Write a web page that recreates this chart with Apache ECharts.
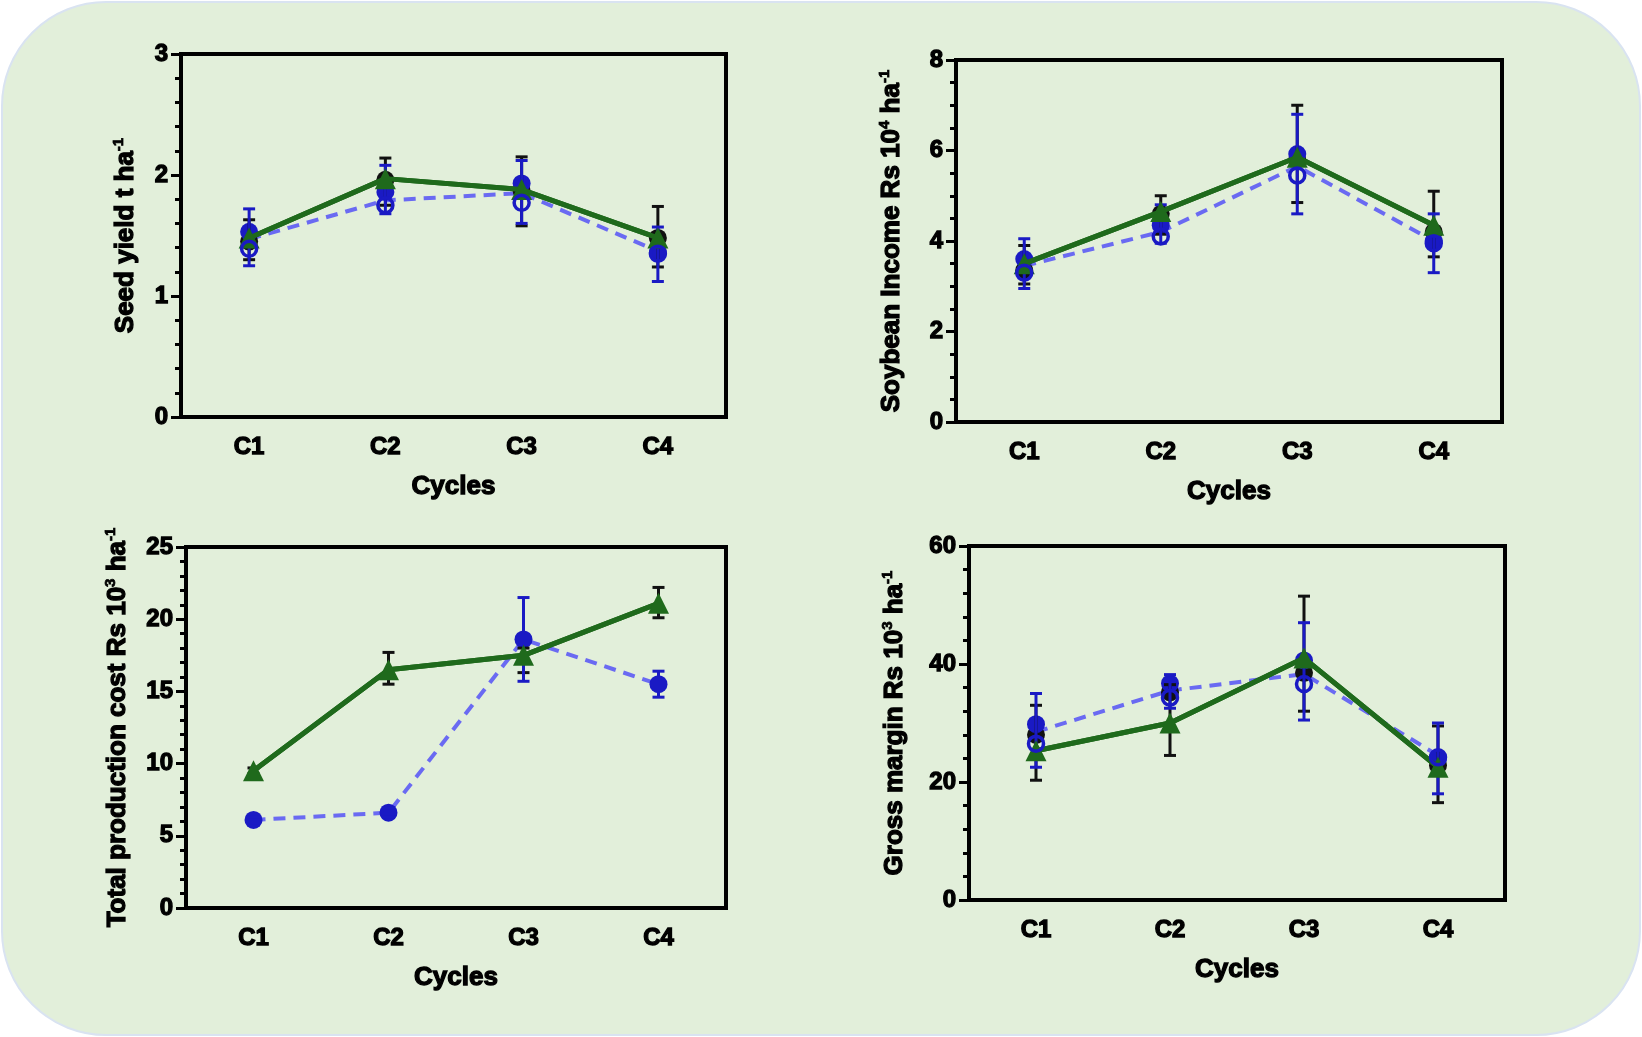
<!DOCTYPE html>
<html>
<head>
<meta charset="utf-8">
<script src="https://cdn.jsdelivr.net/npm/echarts@6/dist/echarts.min.js"></script>
<style>
  html, body { margin: 0; padding: 0; background: #ffffff; }
  #bg {
    position: absolute; left: 1px; top: 1px; width: 1636px; height: 1031px;
    background: #e2efda; border: 2px solid #d9e3f1; border-radius: 105px;
  }
  #main { position: absolute; left: 0; top: 0; width: 1642px; height: 1037px; }
</style>
</head>
<body>
<div id="bg"></div>
<div id="main"></div>
<script>
// categories
const cycles = ['C1', 'C2', 'C3', 'C4']

// seed yield (t/ha)
const yieldGreen = [1.48, 1.97, 1.88, 1.48]
const yieldDash = [1.47, 1.79, 1.85, 1.37]
const yieldBlack = [1.45, 1.96, 1.87, 1.48]
const yieldBlue = [1.53, 1.86, 1.93, 1.36]
const yieldOpen = [1.39, 1.75, 1.77, 1.35]
const yieldBlackErr = [[1.30, 1.63], [1.75, 2.14], [1.58, 2.15], [1.24, 1.74]]
const yieldBlueErr = [[1.25, 1.72], [1.68, 2.08], [1.60, 2.12], [1.12, 1.57]]

// soybean income (Rs 10^4/ha)
const incomeGreen = [3.5, 4.65, 5.85, 4.35]
const incomeDash = [3.45, 4.2, 5.65, 4.0]
const incomeBlack = [3.35, 4.6, 5.8, 4.2]
const incomeBlue = [3.6, 4.35, 5.92, 4.0]
const incomeOpen = [3.3, 4.1, 5.45, 3.95]
const incomeBlackErr = [[3.05, 3.9], [4.15, 5.0], [4.85, 7.0], [3.65, 5.1]]
const incomeBlueErr = [[2.95, 4.05], [3.95, 4.8], [4.6, 6.8], [3.3, 4.6]]

// total production cost (Rs 10^3/ha)
const costGreen = [9.5, 16.5, 17.5, 21.1]
const costBlue = [6.1, 6.6, 18.6, 15.5]
const costGreenErr = [[9.3, 9.7], [15.5, 17.7], [16.3, 18.0], [20.1, 22.2]]
const costBlueErr = [[5.9, 6.3], [6.3, 6.9], [15.7, 21.5], [14.6, 16.4]]

// gross margin (Rs 10^3/ha)
const marginGreen = [25.3, 30.0, 41.0, 22.5]
const marginDash = [28.5, 35.5, 38.3, 24.5]
const marginBlack = [28.0, 35.2, 38.5, 22.8]
const marginBlue = [29.8, 36.7, 40.6, 24.0]
const marginOpen = [26.5, 34.3, 36.6, 24.2]
const marginBlackErr = [[20.3, 33], [24.5, 36.5], [32, 51.5], [16.5, 29.5]]
const marginBlueErr = [[22.5, 35], [32.5, 38.2], [30.5, 47], [18, 30]]

const FONT = 'Liberation Sans'
const GREEN = '#1f6a1c'
const DASH = '#6a6af2'
const BLUE = '#1a1ac4'
const BLACK = '#111111'

const grids = [
  { left: 181, top: 54, width: 545, height: 363 },
  { left: 956, top: 60, width: 546, height: 362 },
  { left: 186, top: 547, width: 540, height: 361 },
  { left: 969, top: 546, width: 536, height: 354 },
]

// heavy text: bold plus a thin outline of the same colour
const heavy = { fontFamily: FONT, fontWeight: 'bold', color: '#000', textBorderColor: '#000', textBorderWidth: 1.3 }

function xAxis(i) {
  return {
    type: 'category', gridIndex: i, data: cycles, boundaryGap: true,
    name: 'Cycles', nameLocation: 'middle', nameGap: 57,
    nameTextStyle: Object.assign({ fontSize: 26 }, heavy),
    axisLine: { lineStyle: { color: '#000', width: 4 } },
    axisTick: { alignWithLabel: true, length: 9, lineStyle: { width: 3, color: '#000' } },
    axisLabel: Object.assign({ margin: 18, fontSize: 24 }, heavy),
    splitLine: { show: false },
  }
}

function yAxis(i, name, max, interval, minor, gap) {
  return {
    type: 'value', gridIndex: i, min: 0, max: max, interval: interval,
    name: name, nameLocation: 'middle', nameGap: gap, nameRotate: 90,
    nameTextStyle: {
      color: '#000',
      rich: {
        n: Object.assign({ fontSize: 26, lineHeight: 30 }, heavy),
        s: Object.assign({ fontSize: 15, verticalAlign: 'top', lineHeight: 30 }, heavy, { textBorderWidth: 0.8 }),
      },
    },
    axisLine: { show: true, lineStyle: { color: '#000', width: 4 } },
    axisTick: { show: true, length: 10, lineStyle: { width: 3, color: '#000' } },
    minorTick: { show: true, splitNumber: minor, length: 6, lineStyle: { width: 3, color: '#000' } },
    axisLabel: Object.assign({ margin: 13, fontSize: 24 }, heavy),
    splitLine: { show: false },
    minorSplitLine: { show: false },
  }
}

function lineSeries(i, data, color, dashed, symbol) {
  return {
    type: 'line', xAxisIndex: i, yAxisIndex: i, data: data, z: symbol ? 5 : 3,
    lineStyle: { color: color, width: dashed ? 4 : 5, type: dashed ? [12, 8] : 'solid' },
    itemStyle: { color: color, opacity: 1 },
    symbol: symbol || 'none', symbolSize: 21, showSymbol: !!symbol,
    animation: false,
  }
}

function dots(i, data, color, open) {
  return {
    type: 'scatter', xAxisIndex: i, yAxisIndex: i, data: data, z: open ? 6 : 4,
    symbol: 'circle', symbolSize: open ? 15 : 18,
    itemStyle: open
      ? { color: 'rgba(0,0,0,0)', borderColor: color, borderWidth: 3.5, opacity: 1 }
      : { color: color, opacity: 1 },
    animation: false,
  }
}

function errorBars(i, ranges, color) {
  return {
    type: 'custom', xAxisIndex: i, yAxisIndex: i, z: 5,
    data: ranges.map((r, k) => [k, r[0], r[1]]),
    encode: { x: 0, y: [1, 2] },
    renderItem: function (params, api) {
      const lo = api.coord([api.value(0), api.value(1)])
      const hi = api.coord([api.value(0), api.value(2)])
      const w = 6
      const st = { stroke: color, lineWidth: 3 }
      return {
        type: 'group',
        children: [
          { type: 'line', shape: { x1: lo[0], y1: lo[1], x2: hi[0], y2: hi[1] }, style: st },
          { type: 'line', shape: { x1: lo[0] - w, y1: lo[1], x2: lo[0] + w, y2: lo[1] }, style: st },
          { type: 'line', shape: { x1: hi[0] - w, y1: hi[1], x2: hi[0] + w, y2: hi[1] }, style: st },
        ],
      }
    },
    animation: false,
  }
}

const option = {
  backgroundColor: 'transparent',
  animation: false,
  grid: grids.map(g => Object.assign({ show: true, borderColor: '#000', borderWidth: 4, backgroundColor: 'transparent' }, g)),
  xAxis: [0, 1, 2, 3].map(xAxis),
  yAxis: [
    yAxis(0, '{n|Seed yield t ha}{s|-1}', 3, 1, 5, 40),
    yAxis(1, '{n|Soybean Income Rs 10}{s|4}{n| ha}{s|-1}', 8, 2, 4, 49),
    yAxis(2, '{n|Total production cost Rs 10}{s|3}{n| ha}{s|-1}', 25, 5, 5, 53),
    yAxis(3, '{n|Gross margin Rs 10}{s|3}{n| ha}{s|-1}', 60, 20, 5, 59),
  ],
  series: [
    // seed yield
    lineSeries(0, yieldDash, DASH, true),
    lineSeries(0, yieldGreen, GREEN, false),
    errorBars(0, yieldBlackErr, BLACK),
    errorBars(0, yieldBlueErr, BLUE),
    dots(0, yieldBlack, BLACK),
    lineSeries(0, yieldGreen, GREEN, false, 'triangle'),
    dots(0, yieldBlue, BLUE),
    dots(0, yieldOpen, BLUE, true),
    // income
    lineSeries(1, incomeDash, DASH, true),
    lineSeries(1, incomeGreen, GREEN, false),
    errorBars(1, incomeBlackErr, BLACK),
    errorBars(1, incomeBlueErr, BLUE),
    dots(1, incomeBlack, BLACK),
    lineSeries(1, incomeGreen, GREEN, false, 'triangle'),
    dots(1, incomeBlue, BLUE),
    dots(1, incomeOpen, BLUE, true),
    // cost
    lineSeries(2, costBlue, DASH, true),
    lineSeries(2, costGreen, GREEN, false),
    errorBars(2, costGreenErr, BLACK),
    errorBars(2, costBlueErr, BLUE),
    lineSeries(2, costGreen, GREEN, false, 'triangle'),
    dots(2, costBlue, BLUE),
    // margin
    lineSeries(3, marginDash, DASH, true),
    lineSeries(3, marginGreen, GREEN, false),
    errorBars(3, marginBlackErr, BLACK),
    errorBars(3, marginBlueErr, BLUE),
    dots(3, marginBlack, BLACK),
    lineSeries(3, marginGreen, GREEN, false, 'triangle'),
    dots(3, marginBlue, BLUE),
    dots(3, marginOpen, BLUE, true),
  ],
}

const chart = echarts.init(document.getElementById('main'))
chart.setOption(option)
window.addEventListener('resize', function () { chart.resize() })
</script>
</body>
</html>
